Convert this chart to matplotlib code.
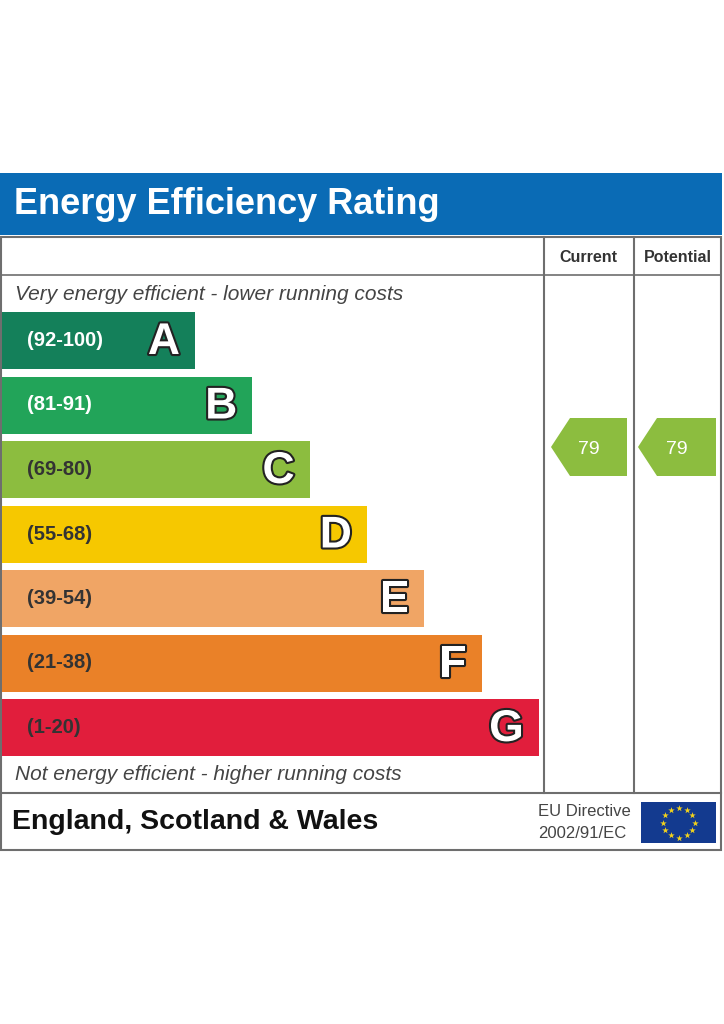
import numpy as np
import matplotlib.pyplot as plt
import matplotlib.patheffects as pe
from matplotlib.patches import Rectangle, Polygon

plt.rcParams['font.family'] = ['Liberation Sans', 'DejaVu Sans']

# bandas de la etiqueta
bands = ['A', 'B', 'C', 'D', 'E', 'F', 'G']
ranges = ['(92-100)', '(81-91)', '(69-80)', '(55-68)', '(39-54)', '(21-38)', '(1-20)']
lows = [92, 81, 69, 55, 39, 21, 1]
band_colors = ['#14805a', '#22a459', '#8cbd3f', '#f6c800', '#f0a565', '#ea8128', '#e11e3c']
range_text_colors = ['white', 'white', '#333333', '#333333', '#333333', '#333333', '#333333']

current = 79
potential = 79


def band_index(v):
    for i, lo in enumerate(lows):
        if v >= lo:
            return i
    return len(lows) - 1


fig = plt.figure(figsize=(7.24, 10.24), dpi=100)
ax = fig.add_axes([0, 0, 1, 1])
ax.set_xlim(0, 724)
ax.set_ylim(1024, 0)
ax.axis('off')

# cabecera azul
ax.add_patch(Rectangle((0, 173), 722, 62, color='#0a6bb5', lw=0))
ax.text(14, 205, 'Energy Efficiency Rating', color='white', fontsize=26,
        fontweight='bold', va='center', ha='left')

# marco de la tabla
line_c = '#6e6e6e'
ax.add_patch(Rectangle((1, 237), 720, 613, fill=False, ec=line_c, lw=1.5))
ax.plot([1, 721], [275, 275], color=line_c, lw=1.2)
ax.plot([1, 721], [793, 793], color=line_c, lw=1.5)
ax.plot([544, 544], [237, 793], color=line_c, lw=1.5)
ax.plot([634, 634], [237, 793], color=line_c, lw=1.5)

ax.text(588, 257, 'Current', fontsize=11.5, fontweight='bold', color='#333333',
        ha='center', va='center')
ax.text(678, 257, 'Potential', fontsize=11.5, fontweight='bold', color='#333333',
        ha='center', va='center')

ax.text(15, 294, 'Very energy efficient - lower running costs', fontsize=15,
        style='italic', color='#444444', ha='left', va='center')
ax.text(15, 775, 'Not energy efficient - higher running costs', fontsize=15,
        style='italic', color='#444444', ha='left', va='center')

# barras
top0, step, bh = 312, 64.5, 57
for i, (b, r) in enumerate(zip(bands, ranges)):
    y = top0 + i * step
    w = 193 + i * 57.3
    ax.add_patch(Rectangle((2, y), w, bh, color=band_colors[i], lw=0))
    ax.text(27, y + bh / 2, r, fontsize=14.5, fontweight='bold',
            color=range_text_colors[i], ha='left', va='center')
    ax.text(2 + w - 15, y + bh / 2 + 2, b, fontsize=32, fontweight='bold',
            color='white', ha='right', va='center',
            path_effects=[pe.withStroke(linewidth=3, foreground='#222222')])


# flechas de valoracion
def arrow(x0, x1, value):
    i = band_index(value)
    yt = top0 + i * step - 23
    yb = yt + 58
    ym = (yt + yb) / 2
    pts = [(x0, ym), (x0 + 19, yt), (x1, yt), (x1, yb), (x0 + 19, yb)]
    ax.add_patch(Polygon(pts, closed=True, color=band_colors[i], lw=0))
    ax.text((x0 + x1) / 2, ym + 2, str(value), fontsize=14,
            color='white', ha='center', va='center')


arrow(551, 627, current)
arrow(638, 716, potential)

# pie
ax.text(12, 822, 'England, Scotland & Wales', fontsize=20.5, fontweight='bold',
        color='#111111', ha='left', va='center')
ax.text(631, 812, 'EU Directive', fontsize=12, color='#444444', ha='right', va='center')
ax.text(626, 833, '2002/91/EC', fontsize=12, color='#444444', ha='right', va='center')

ax.add_patch(Rectangle((641, 802), 75, 41, color='#133a8f', lw=0))
ang = np.linspace(0, 2 * np.pi, 13)[:-1]
ax.scatter(678.5 + 16 * np.cos(ang), 822.5 + 15 * np.sin(ang), marker='*', s=24,
           color='#f2d21c', lw=0)

fig.savefig('out.png', dpi=100, facecolor='white')
